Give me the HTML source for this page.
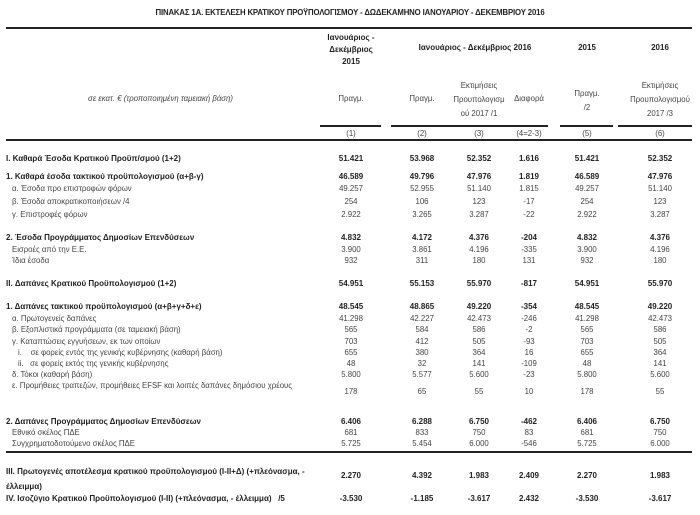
<!DOCTYPE html>
<html><head><meta charset="utf-8"><style>
body{margin:0;width:700px;height:515px;background:#fff;position:relative;overflow:hidden;font-family:"Liberation Sans","DejaVu Sans",sans-serif;color:#444;}
.t{position:absolute;font-size:7.8px;white-space:nowrap;line-height:9px;}
.b{font-weight:bold;color:#222;font-size:8px;}
.c{transform:translateX(-50%);text-align:center;}
.ln{position:absolute;background:#222;}
</style></head><body>
<div class="t b c" style="left:350px;top:8px;font-size:7.8px;letter-spacing:-0.15px;">ΠΙΝΑΚΑΣ 1Α. ΕΚΤΕΛΕΣΗ ΚΡΑΤΙΚΟΥ ΠΡΟΫΠΟΛΟΓΙΣΜΟΥ - ΔΩΔΕΚΑΜΗΝΟ ΙΑΝΟΥΑΡΙΟΥ - ΔΕΚΕΜΒΡΙΟΥ 2016</div>
<div class="ln" style="left:6px;top:27px;width:686px;height:2px;"></div>
<div class="t b c" style="left:351px;top:32px;line-height:12px;">Ιανουάριος -<br>Δεκέμβριος<br>2015</div>
<div class="t b c" style="left:475px;top:43px;">Ιανουάριος - Δεκέμβριος 2016</div>
<div class="t b c" style="left:587px;top:43px;">2015</div>
<div class="t b c" style="left:660px;top:43px;">2016</div>
<div class="t" style="left:88px;top:94px;font-style:italic;">σε εκατ. € (τροποποιημένη ταμειακή βάση)</div>
<div class="t c" style="left:351px;top:94px;">Πραγμ.</div>
<div class="t c" style="left:422px;top:94px;">Πραγμ.</div>
<div class="t c" style="left:479px;top:79px;line-height:14px;">Εκτιμήσεις<br>Προυπολογισμ<br>ού 2017 /1</div>
<div class="t c" style="left:529px;top:94px;">Διαφορά</div>
<div class="t c" style="left:587px;top:87px;line-height:14px;">Πραγμ.<br>/2</div>
<div class="t c" style="left:660px;top:79px;line-height:14px;">Εκτιμήσεις<br>Προυπολογισμού<br>2017 /3</div>
<div class="ln" style="left:320px;top:125px;width:61px;height:2px;"></div>
<div class="ln" style="left:391px;top:125px;width:157px;height:2px;"></div>
<div class="ln" style="left:560px;top:125px;width:53px;height:2px;"></div>
<div class="ln" style="left:618px;top:125px;width:74px;height:2px;"></div>
<div class="t c" style="left:351px;top:129px;">(1)</div>
<div class="t c" style="left:422px;top:129px;">(2)</div>
<div class="t c" style="left:479px;top:129px;">(3)</div>
<div class="t c" style="left:529px;top:129px;">(4=2-3)</div>
<div class="t c" style="left:587px;top:129px;">(5)</div>
<div class="t c" style="left:660px;top:129px;">(6)</div>
<div class="ln" style="left:6px;top:139px;width:686px;height:2px;"></div>
<div id="rows"></div>
<div class="ln" style="left:6px;top:451px;width:686px;height:2px;"></div>
<script>
var R=[
[158,1,6,"I. Καθαρά Έσοδα Κρατικού Προϋπ/σμού (1+2)",["51.421","53.968","52.352","1.616","51.421","52.352"]],
[176,1,6,"1. Καθαρά έσοδα τακτικού προϋπολογισμού (α+β-γ)",["46.589","49.796","47.976","1.819","46.589","47.976"]],
[188,0,12,"α. Έσοδα προ επιστροφών φόρων",["49.257","52.955","51.140","1.815","49.257","51.140"]],
[201,0,12,"β. Έσοδα αποκρατικοποιήσεων /4",["254","106","123","-17","254","123"]],
[214,0,12,"γ.  Επιστροφές φόρων",["2.922","3.265","3.287","-22","2.922","3.287"]],
[237,1,6,"2. Έσοδα Προγράμματος Δημοσίων Επενδύσεων",["4.832","4.172","4.376","-204","4.832","4.376"]],
[249,0,12,"Εισροές από την Ε.Ε.",["3.900","3.861","4.196","-335","3.900","4.196"]],
[260,0,12,"Ίδια έσοδα",["932","311","180","131","932","180"]],
[283,1,6,"II. Δαπάνες Κρατικού Προϋπολογισμού (1+2)",["54.951","55.153","55.970","-817","54.951","55.970"]],
[306,1,6,"1. Δαπάνες τακτικού προϋπολογισμού (α+β+γ+δ+ε)",["48.545","48.865","49.220","-354","48.545","49.220"]],
[318,0,12,"α. Πρωτογενείς δαπάνες",["41.298","42.227","42.473","-246","41.298","42.473"]],
[329,0,12,"β. Εξοπλιστικά προγράμματα (σε ταμειακή βάση)",["565","584","586","-2","565","586"]],
[341,0,12,"γ. Καταπτώσεις εγγυήσεων, εκ των οποίων",["703","412","505","-93","703","505"]],
[352,0,18,"i.&nbsp;&nbsp;&nbsp; σε φορείς εντός της γενικής κυβέρνησης (καθαρή βάση)",["655","380","364","16","655","364"]],
[363,0,18,"ii.&nbsp;&nbsp; σε φορείς εκτός της γενικής κυβέρνησης",["48","32","141","-109","48","141"]],
[374,0,12,"δ. Τόκοι (καθαρή βάση)",["5.800","5.577","5.600","-23","5.800","5.600"]],
[391,0,12,"",["178","65","55","10","178","55"]],
[421,1,6,"2. Δαπάνες Προγράμματος Δημοσίων Επενδύσεων",["6.406","6.288","6.750","-462","6.406","6.750"]],
[432,0,12,"Εθνικό σκέλος ΠΔΕ",["681","833","750","83","681","750"]],
[443,0,12,"Συγχρηματοδοτούμενο σκέλος ΠΔΕ",["5.725","5.454","6.000","-546","5.725","6.000"]],
[475,1,6,"",["2.270","4.392","1.983","2.409","2.270","1.983"]],
[498,1,6,"IV. Ισοζύγιο Κρατικού Προϋπολογισμού (Ι-ΙΙ) (+πλεόνασμα, - έλλειμμα)&nbsp;&nbsp; /5",["-3.530","-1.185","-3.617","2.432","-3.530","-3.617"]]
];
var X=[351,422,479,529,587,660],h="";
R.forEach(function(r){var cl=r[1]?"t b":"t";
if(r[3])h+='<div class="'+cl+'" style="left:'+r[2]+'px;top:'+(r[0]-4)+'px;">'+r[3]+'</div>';
r[4].forEach(function(v,i){h+='<div class="'+cl+' c" style="left:'+X[i]+'px;top:'+(r[0]-4)+'px;">'+v+'</div>';});});
h+='<div class="t" style="left:12px;top:381px;">ε. Προμήθειες τραπεζών, προμήθειες EFSF και λοιπές δαπάνες δημόσιου χρέους</div>';
h+='<div class="t b" style="left:6px;top:464px;line-height:15px;">III. Πρωτογενές αποτέλεσμα κρατικού προϋπολογισμού (Ι-ΙΙ+Δ) (+πλεόνασμα, -<br>έλλειμμα)</div>';
document.getElementById("rows").innerHTML=h;
</script>
</body></html>
